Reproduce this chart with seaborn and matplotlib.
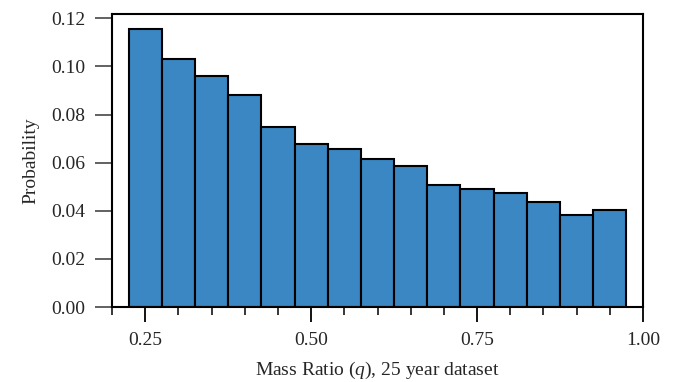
import numpy as np
import pandas as pd
import matplotlib
matplotlib.use("Agg")
import matplotlib.pyplot as plt
from matplotlib.ticker import MultipleLocator
import seaborn as sns

# Histogram of the mass ratio q, bins of width 0.05 from 0.225 to 0.975
bin_edges = [0.225, 0.275, 0.325, 0.375, 0.425, 0.475, 0.525, 0.575,
             0.625, 0.675, 0.725, 0.775, 0.825, 0.875, 0.925, 0.975]
probability = [0.1157, 0.1030, 0.0959, 0.0881, 0.0748, 0.0679, 0.0658,
               0.0615, 0.0585, 0.0509, 0.0491, 0.0474, 0.0437, 0.0382, 0.0402]
bin_centers = [(a + b) / 2 for a, b in zip(bin_edges[:-1], bin_edges[1:])]
x_ticks = [0.25, 0.50, 0.75, 1.00]
y_ticks = [0.00, 0.02, 0.04, 0.06, 0.08, 0.10, 0.12]

df = pd.DataFrame({"q": bin_centers, "p": probability})

sns.set_style("ticks")
plt.rcParams["font.family"] = ["Liberation Serif", "DejaVu Serif"]
plt.rcParams["mathtext.fontset"] = "custom"
plt.rcParams["mathtext.it"] = "Liberation Serif:italic"
plt.rcParams["mathtext.rm"] = "Liberation Serif"

fig = plt.figure(figsize=(6.79, 3.82), dpi=100)
ax = fig.add_axes([0.165, 0.196, 0.782, 0.767])

sns.histplot(data=df, x="q", weights="p", bins=bin_edges, stat="count",
             color="#3a87c4", alpha=1.0, edgecolor="black", linewidth=1.5, ax=ax)

ax.set_xlim(0.2, 1.0)
ax.set_ylim(0, 0.1217)
ax.set_xticks(x_ticks)
ax.set_xticklabels([f"{t:.2f}" for t in x_ticks])
ax.xaxis.set_minor_locator(MultipleLocator(0.05))
ax.set_yticks(y_ticks)
ax.set_yticklabels([f"{t:.2f}" for t in y_ticks])

for s in ax.spines.values():
    s.set_linewidth(1.5)
    s.set_color("black")
    s.set_visible(True)

ax.tick_params(axis="x", which="major", length=11, width=1.3,
               labelsize=14, pad=7, color="black")
ax.tick_params(axis="y", which="major", length=12, width=1.3,
               labelsize=14, pad=7, color="#555555")
ax.tick_params(axis="x", which="minor", length=5.5, width=1.3)

ax.set_xlabel("Mass Ratio ($q$), 25 year dataset", fontsize=14, labelpad=8)
ax.set_ylabel("Probability", fontsize=14, labelpad=9)

fig.savefig("out.png", dpi=100)
